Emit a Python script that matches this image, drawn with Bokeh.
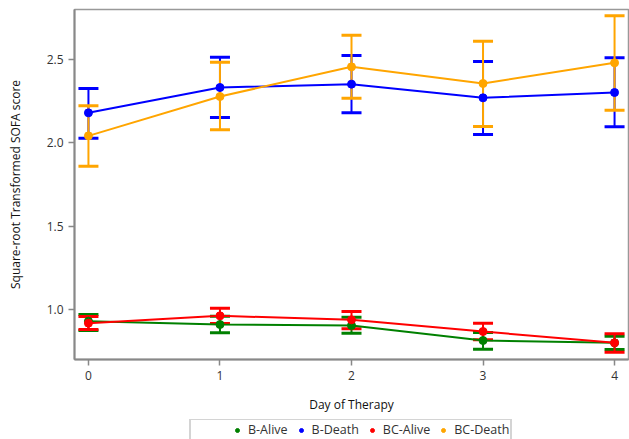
from bokeh.plotting import figure
from bokeh.layouts import column
from bokeh.models import ColumnDataSource, Whisker, TeeHead, Legend, LegendItem, FixedTicker, NumeralTickFormatter, Range1d
from bokeh.embed import file_html
from bokeh.resources import INLINE

days = [0, 1, 2, 3, 4]

b_alive_mean = [0.930, 0.910, 0.904, 0.814, 0.800]
b_alive_lower = [0.874, 0.860, 0.858, 0.762, 0.760]
b_alive_upper = [0.970, 0.960, 0.954, 0.862, 0.840]

b_death_mean = [2.180, 2.332, 2.352, 2.270, 2.302]
b_death_lower = [2.028, 2.152, 2.180, 2.050, 2.096]
b_death_upper = [2.326, 2.514, 2.524, 2.488, 2.510]

bc_alive_mean = [0.918, 0.962, 0.938, 0.868, 0.800]
bc_alive_lower = [0.880, 0.916, 0.884, 0.818, 0.744]
bc_alive_upper = [0.958, 1.008, 0.988, 0.918, 0.854]

bc_death_mean = [2.042, 2.278, 2.456, 2.356, 2.480]
bc_death_lower = [1.860, 2.078, 2.268, 2.098, 2.196]
bc_death_upper = [2.222, 2.484, 2.646, 2.610, 2.762]

series_names = ["B-Alive", "B-Death", "BC-Alive", "BC-Death"]
series_colors = ["#008000", "#0000ff", "#ff0000", "#ffa500"]
series_data = [
    (b_alive_mean, b_alive_lower, b_alive_upper),
    (b_death_mean, b_death_lower, b_death_upper),
    (bc_alive_mean, bc_alive_lower, bc_alive_upper),
    (bc_death_mean, bc_death_lower, bc_death_upper),
]

FONT = "Open Sans"
TXT = "#333333"

p = figure(width=629, height=419, output_backend="svg", toolbar_location=None,
           x_range=Range1d(-0.106, 4.106), y_range=Range1d(0.70, 2.80),
           min_border_left=74, min_border_top=9, min_border_right=1, min_border_bottom=60)

p.xgrid.visible = False
p.ygrid.visible = False
p.outline_line_color = "#999999"
p.outline_line_width = 1.5

p.xaxis.ticker = FixedTicker(ticks=days)
p.yaxis.ticker = FixedTicker(ticks=[1.0, 1.5, 2.0, 2.5])
p.yaxis.formatter = NumeralTickFormatter(format="0.0")
p.xaxis.axis_label = "Day of Therapy"
p.yaxis.axis_label = "Square-root Transformed SOFA score"

for ax in (p.xaxis[0], p.yaxis[0]):
    ax.axis_line_color = "#888888"
    ax.axis_line_width = 2
    ax.major_tick_line_color = "#888888"
    ax.major_tick_line_width = 1.5
    ax.major_tick_out = 6
    ax.major_tick_in = 0
    ax.minor_tick_line_color = None
    ax.major_label_text_font = FONT
    ax.major_label_text_font_size = "12px"
    ax.major_label_text_color = TXT
    ax.axis_label_text_font = FONT
    ax.axis_label_text_font_size = "12px"
    ax.axis_label_text_font_style = "normal"
    ax.axis_label_text_color = "#111111"
    ax.major_label_standoff = 5

p.yaxis.axis_label_standoff = 20
p.xaxis.axis_label_standoff = 13

for name, color, (mean, lower, upper) in zip(series_names, series_colors, series_data):
    src = ColumnDataSource(dict(x=days, y=mean, lower=lower, upper=upper))
    w = Whisker(base="x", lower="lower", upper="upper", source=src, dimension="height",
                line_color=color, line_width=2,
                upper_head=TeeHead(size=20, line_color=color, line_width=3),
                lower_head=TeeHead(size=20, line_color=color, line_width=3))
    p.add_layout(w)
    p.line("x", "y", source=src, line_color=color, line_width=2)
    p.scatter("x", "y", source=src, marker="circle", size=8, fill_color=color, line_color=color)

# legend strip below the chart
lf = figure(width=629, height=20, output_backend="svg", toolbar_location=None,
            x_range=Range1d(0, 1), y_range=Range1d(0, 1),
            x_axis_location=None, y_axis_location=None,
            min_border=0, outline_line_color=None)
lf.grid.visible = False

items = []
pad_r = lf.scatter(x=[-10], y=[-10], marker="circle", size=7, fill_alpha=0, line_alpha=0)
items.append(LegendItem(label=" ", renderers=[pad_r]))
for name, color in zip(series_names, series_colors):
    r = lf.scatter(x=[-10], y=[-10], marker="circle", size=7, fill_color=color, line_color=color)
    items.append(LegendItem(label=name, renderers=[r]))

legend = Legend(items=items, orientation="horizontal", location=(115, -2),
                label_text_font=FONT, label_text_font_size="12.5px", label_text_color=TXT,
                glyph_width=10, glyph_height=12, label_standoff=6, spacing=8,
                padding=1, margin=0, border_line_color="#aaaaaa", border_line_width=2,
                label_height=12, label_width=16, background_fill_color="white")
lf.add_layout(legend, "center")

layout = column(p, lf, spacing=0)
open("out.html", "w").write(file_html(layout, INLINE))
